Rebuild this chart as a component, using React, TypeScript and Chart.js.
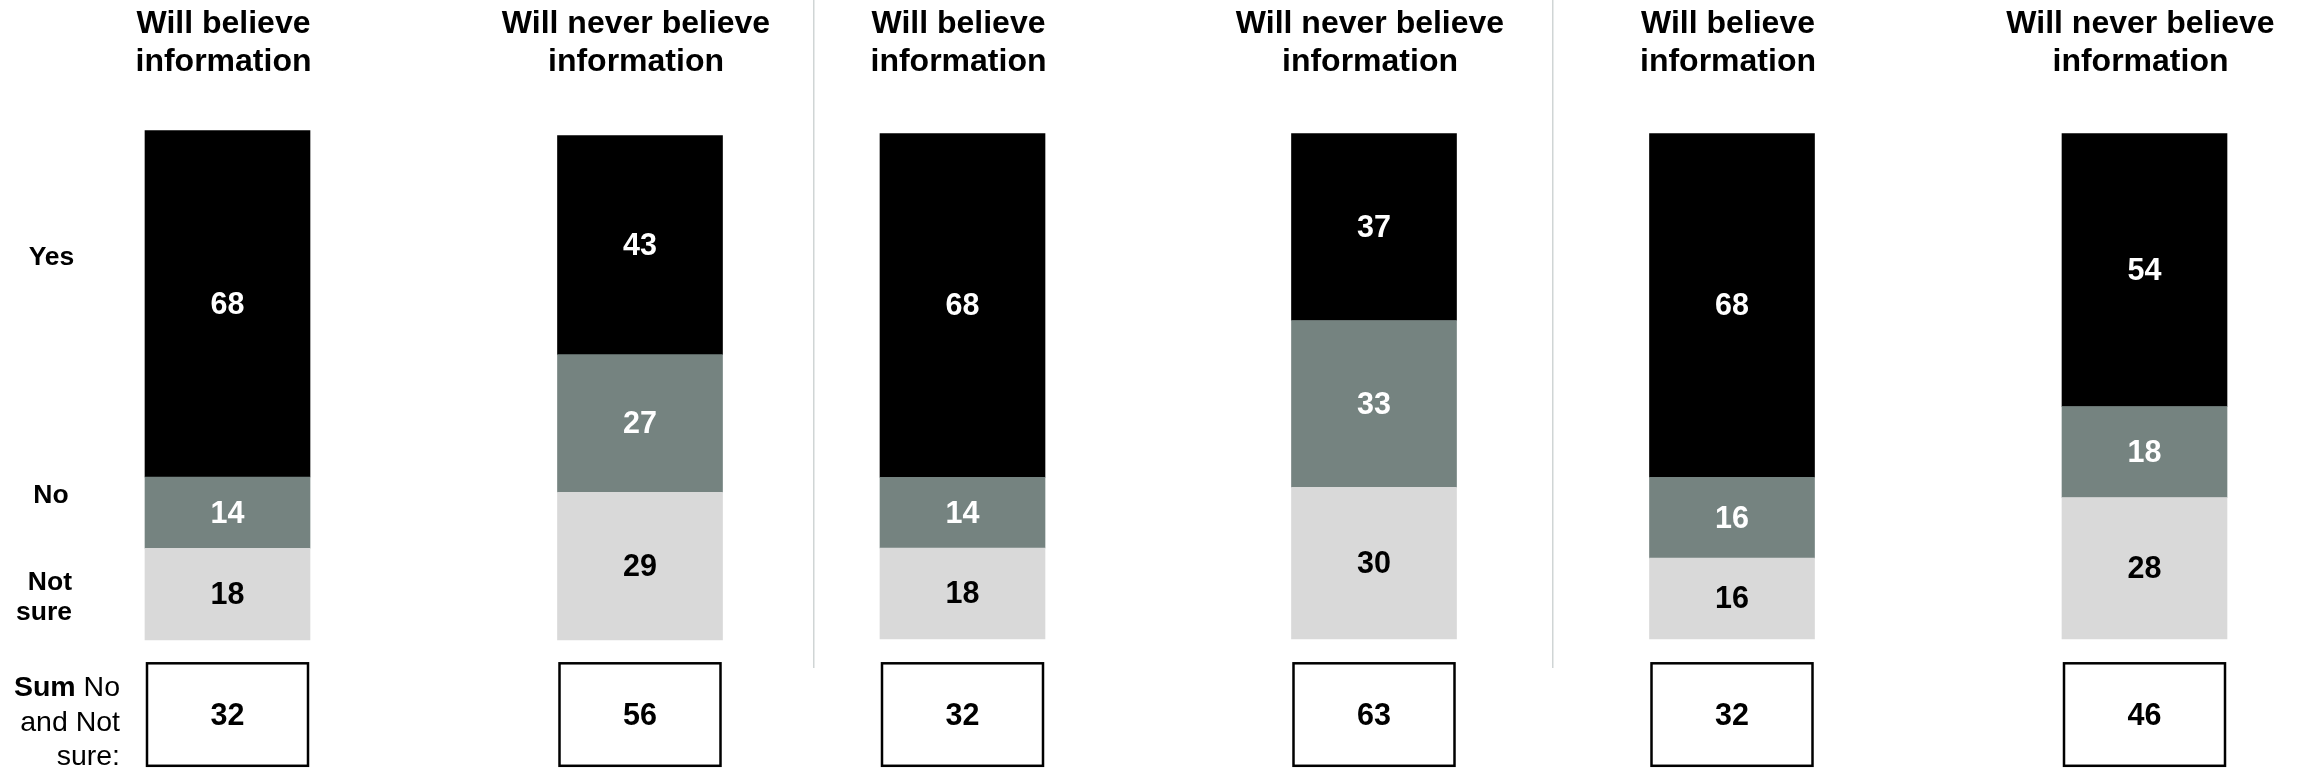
import React, { useEffect, useRef } from "react";
import { Chart, registerables } from "chart.js";

Chart.register(...registerables);

// ---------- data ----------
const titles: string[][] = [
  ["Will believe", "information"],
  ["Will never believe", "information"],
  ["Will believe", "information"],
  ["Will never believe", "information"],
  ["Will believe", "information"],
  ["Will never believe", "information"],
];
const seriesNames = ["Yes", "No", "Not sure"];
const yesValues = [68, 43, 68, 37, 68, 54];
const noValues = [14, 27, 14, 33, 16, 18];
const notSureValues = [18, 29, 18, 30, 16, 28];
const sumNoNotSure = [32, 56, 32, 63, 32, 46];
const sumLabelBold = "Sum";
const sumLabelLines = [" No", "and Not", "sure:"];
const panelGroups = [
  [0, 1],
  [2, 3],
  [4, 5],
];

// ---------- styles ----------
const FONT = "'Liberation Sans', Arial, Helvetica, sans-serif";
const COLORS = { yes: "#000000", no: "#758380", notSure: "#D9D9D9" };
const BAR_W = 165;

const panelLayouts = [
  { width: 813, padding: { left: 227.5, right: 173, top: 130.5, bottom: 129 }, leftLabels: true, divider: false },
  { width: 739, padding: { left: 149.5, right: 178, top: 133.5, bottom: 130 }, leftLabels: false, divider: true },
  { width: 749, padding: { left: 180, right: 156.5, top: 133.5, bottom: 130 }, leftLabels: false, divider: true },
];

const decorPlugin = {
  id: "decor",
  afterDatasetsDraw(chart: any, _args: any, opts: any) {
    const ctx = chart.ctx as CanvasRenderingContext2D;
    const xScale = chart.scales.x;
    const idx: number[] = opts.indices;
    ctx.save();

    // divider
    if (opts.divider) {
      ctx.strokeStyle = "#D0D5D5";
      ctx.lineWidth = 1.5;
      ctx.beginPath();
      ctx.moveTo(0.75, 0);
      ctx.lineTo(0.75, 668);
      ctx.stroke();
    }

    // titles
    ctx.fillStyle = "#000";
    ctx.textAlign = "center";
    ctx.textBaseline = "alphabetic";
    ctx.font = `bold 32px ${FONT}`;
    idx.forEach((gi, j) => {
      const x = xScale.getPixelForValue(j) - 4;
      titles[gi].forEach((line, li) => {
        ctx.fillText(line, x, 33 + li * 38);
      });
    });

    // value labels inside bars
    ctx.font = `bold 30.5px ${FONT}`;
    ctx.textBaseline = "middle";
    chart.data.datasets.forEach((ds: any, di: number) => {
      const meta = chart.getDatasetMeta(di);
      meta.data.forEach((el: any, j: number) => {
        const p = el.getProps(["x", "y", "base"], true);
        ctx.fillStyle = ds.labelColor;
        ctx.fillText(String(ds.data[j]), p.x, (p.y + p.base) / 2 + 1.5);
      });
    });

    // sum boxes
    idx.forEach((gi, j) => {
      const x = xScale.getPixelForValue(j);
      ctx.strokeStyle = "#000";
      ctx.lineWidth = 2.5;
      ctx.strokeRect(x - 80.5, 663.3, 161, 102.5);
      ctx.fillStyle = "#000";
      ctx.font = `bold 30.5px ${FONT}`;
      ctx.textBaseline = "middle";
      ctx.textAlign = "center";
      ctx.fillText(String(sumNoNotSure[gi]), x, 717);
    });

    // left labels
    if (opts.leftLabels) {
      ctx.fillStyle = "#000";
      ctx.textBaseline = "alphabetic";
      ctx.font = `bold 26.5px ${FONT}`;
      ctx.textAlign = "center";
      ctx.fillText(seriesNames[0], 51.5, 265);
      ctx.fillText(seriesNames[1], 51, 503);
      ctx.textAlign = "right";
      const ns = seriesNames[2].split(" ");
      ctx.fillText(ns[0], 72, 590);
      ctx.fillText(ns[1], 72, 620);

      // sum label
      const rightX = 120;
      ctx.font = `28.5px ${FONT}`;
      const w = ctx.measureText(sumLabelLines[0]).width;
      ctx.fillText(sumLabelLines[0], rightX, 696);
      ctx.fillText(sumLabelLines[1], rightX, 731);
      ctx.fillText(sumLabelLines[2], rightX, 765);
      ctx.font = `bold 28.5px ${FONT}`;
      ctx.fillText(sumLabelBold, rightX - w, 696);
    }

    ctx.restore();
  },
};

function Panel({ p }: { p: number }) {
  const ref = useRef<HTMLCanvasElement>(null);
  const layout = panelLayouts[p];
  useEffect(() => {
    if (!ref.current) return;
    const idx = panelGroups[p];
    const chart = new Chart(ref.current, {
      type: "bar",
      data: {
        labels: idx.map((i) => titles[i].join(" ")),
        datasets: [
          {
            label: seriesNames[2],
            data: idx.map((i) => notSureValues[i]),
            backgroundColor: COLORS.notSure,
            labelColor: "#000000",
          } as any,
          {
            label: seriesNames[1],
            data: idx.map((i) => noValues[i]),
            backgroundColor: COLORS.no,
            labelColor: "#FFFFFF",
          } as any,
          {
            label: seriesNames[0],
            data: idx.map((i) => yesValues[i]),
            backgroundColor: COLORS.yes,
            labelColor: "#FFFFFF",
          } as any,
        ],
      },
      options: {
        responsive: false,
        animation: false,
        events: [],
        layout: { padding: layout.padding },
        datasets: { bar: { barThickness: BAR_W, clip: false, borderWidth: 0 } } as any,
        scales: {
          x: { stacked: true, display: false, offset: false, grid: { display: false } },
          y: { stacked: true, display: false, min: 0, max: 100 },
        },
        plugins: {
          legend: { display: false },
          tooltip: { enabled: false },
          decor: { indices: idx, leftLabels: layout.leftLabels, divider: layout.divider },
        } as any,
      },
      plugins: [decorPlugin],
    });
    return () => chart.destroy();
  }, [p]);
  return (
    <canvas
      ref={ref}
      width={layout.width}
      height={769}
      style={{ display: "block", width: layout.width, height: 769 }}
    />
  );
}

export default function App() {
  return (
    <div
      style={{
        position: "absolute",
        left: 0,
        top: 0,
        width: 2301,
        height: 769,
        background: "#fff",
        display: "flex",
        overflow: "hidden",
      }}
    >
      {panelLayouts.map((_, i) => (
        <Panel key={i} p={i} />
      ))}
    </div>
  );
}
